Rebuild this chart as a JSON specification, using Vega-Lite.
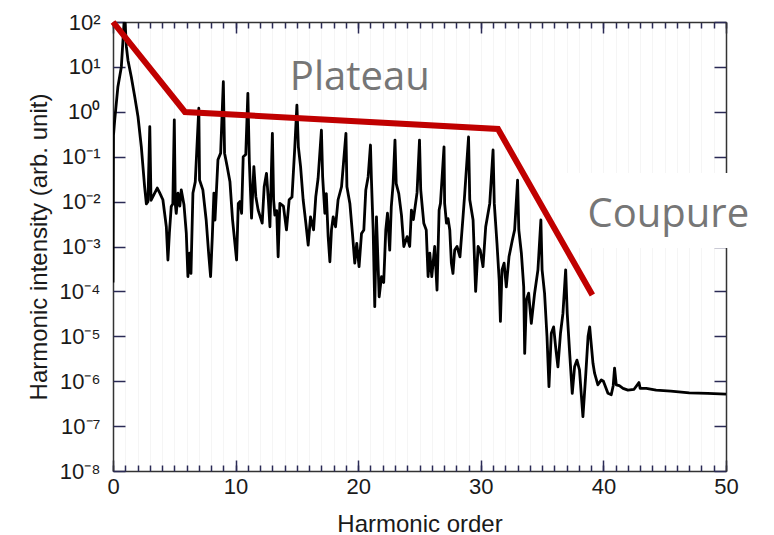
{
  "$schema": "https://vega.github.io/schema/vega-lite/v6.json",
  "width": 613,
  "height": 449,
  "autosize": {"type": "none"},
  "padding": {"left": 113, "top": 22, "right": 48, "bottom": 64},
  "background": "white",
  "config": {
    "view": {"stroke": null},
    "axis": {
      "domainColor": "#333333", "domainWidth": 1.5, "tickWidth": 1.5,
      "labelFont": "Liberation Sans", "labelFontSize": 22, "labelColor": "#1a1a1a",
      "titleFont": "Liberation Sans", "titleFontSize": 24, "titleFontWeight": "normal", "titleColor": "#1a1a1a",
      "grid": false
    }
  },
  "datasets": {
    "box": [{"x1": 36.9, "x2": 52, "y1": 0.00093, "y2": 0.0434}],
    "spec": [
      {"x": 0, "y": 1.58e-4}, {"x": 0.04, "y": 0.3}, {"x": 0.14, "y": 0.661}, {"x": 0.4, "y": 3.63},
      {"x": 0.68, "y": 10}, {"x": 0.95, "y": 158}, {"x": 1.09, "y": 28.2}, {"x": 1.22, "y": 14.1},
      {"x": 1.49, "y": 6.03}, {"x": 1.77, "y": 2.19}, {"x": 2.04, "y": 0.776}, {"x": 2.31, "y": 0.166},
      {"x": 2.58, "y": 0.0214}, {"x": 2.72, "y": 0.00891}, {"x": 2.85, "y": 0.01}, {"x": 3.0, "y": 0.468},
      {"x": 3.1, "y": 0.0107}, {"x": 3.4, "y": 0.0155}, {"x": 3.61, "y": 0.02}, {"x": 3.8, "y": 0.0158},
      {"x": 4.07, "y": 0.011}, {"x": 4.35, "y": 0.00275}, {"x": 4.48, "y": 5.01e-4}, {"x": 4.6, "y": 0.002},
      {"x": 4.75, "y": 0.00776}, {"x": 4.88, "y": 0.00891}, {"x": 5.0, "y": 0.661}, {"x": 5.08, "y": 0.00891},
      {"x": 5.16, "y": 0.0055}, {"x": 5.3, "y": 0.0155}, {"x": 5.45, "y": 0.00794}, {"x": 5.57, "y": 0.0182},
      {"x": 5.79, "y": 0.00851}, {"x": 5.98, "y": 0.00195}, {"x": 6.11, "y": 2.14e-4}, {"x": 6.25, "y": 7.08e-4},
      {"x": 6.36, "y": 2.51e-4}, {"x": 6.52, "y": 0.0155}, {"x": 6.71, "y": 0.0275}, {"x": 7.0, "y": 1.2},
      {"x": 7.06, "y": 0.0302}, {"x": 7.33, "y": 0.0182}, {"x": 7.6, "y": 0.00389}, {"x": 7.8, "y": 7.08e-4},
      {"x": 7.96, "y": 2.14e-4}, {"x": 8.1, "y": 0.00166}, {"x": 8.23, "y": 0.0155}, {"x": 8.32, "y": 0.00389},
      {"x": 8.56, "y": 0.0851}, {"x": 8.78, "y": 0.12}, {"x": 9.0, "y": 4.68}, {"x": 9.1, "y": 0.12},
      {"x": 9.3, "y": 0.0631}, {"x": 9.54, "y": 0.0275}, {"x": 9.75, "y": 0.00398}, {"x": 10.08, "y": 5.01e-4},
      {"x": 10.22, "y": 0.00912}, {"x": 10.35, "y": 0.01}, {"x": 10.49, "y": 0.0055}, {"x": 10.62, "y": 0.1},
      {"x": 10.83, "y": 0.112}, {"x": 11.0, "y": 2.57}, {"x": 11.12, "y": 0.0794}, {"x": 11.3, "y": 0.00427},
      {"x": 11.49, "y": 0.0603}, {"x": 11.65, "y": 0.0129}, {"x": 11.84, "y": 0.00646}, {"x": 12.17, "y": 0.00331},
      {"x": 12.33, "y": 0.0214}, {"x": 12.52, "y": 0.0427}, {"x": 12.68, "y": 0.01}, {"x": 12.8, "y": 0.00275},
      {"x": 13.0, "y": 0.331}, {"x": 13.1, "y": 0.011}, {"x": 13.2, "y": 0.00501}, {"x": 13.35, "y": 0.00631},
      {"x": 13.47, "y": 5.89e-4}, {"x": 13.61, "y": 0.00912}, {"x": 13.9, "y": 0.00794}, {"x": 14.15, "y": 0.00234},
      {"x": 14.37, "y": 0.011}, {"x": 14.6, "y": 0.0126}, {"x": 14.83, "y": 0.166}, {"x": 15.0, "y": 1.41},
      {"x": 15.12, "y": 0.166}, {"x": 15.3, "y": 0.0603}, {"x": 15.51, "y": 0.011}, {"x": 15.73, "y": 0.00331},
      {"x": 15.92, "y": 0.00107}, {"x": 16.11, "y": 0.00457}, {"x": 16.36, "y": 0.00234}, {"x": 16.54, "y": 0.0129},
      {"x": 16.73, "y": 0.0331}, {"x": 17.0, "y": 0.389}, {"x": 17.1, "y": 0.0355}, {"x": 17.28, "y": 0.0055},
      {"x": 17.4, "y": 0.0151}, {"x": 17.55, "y": 0.00166}, {"x": 17.69, "y": 4.57e-4}, {"x": 17.82, "y": 0.00234},
      {"x": 17.96, "y": 0.00457}, {"x": 18.15, "y": 0.00275}, {"x": 18.36, "y": 0.011}, {"x": 18.64, "y": 0.0214},
      {"x": 19.0, "y": 0.331}, {"x": 19.08, "y": 0.0214}, {"x": 19.32, "y": 0.00912}, {"x": 19.53, "y": 0.00195},
      {"x": 19.72, "y": 4.27e-4}, {"x": 19.88, "y": 0.00117}, {"x": 20.07, "y": 3.55e-4}, {"x": 20.27, "y": 0.00195},
      {"x": 20.46, "y": 0.00234}, {"x": 20.62, "y": 0.0182}, {"x": 20.81, "y": 0.0355}, {"x": 21.0, "y": 0.182},
      {"x": 21.08, "y": 0.0302}, {"x": 21.22, "y": 0.00234}, {"x": 21.35, "y": 4.57e-5}, {"x": 21.49, "y": 0.00457},
      {"x": 21.71, "y": 7.59e-5}, {"x": 21.9, "y": 2.14e-4}, {"x": 22.08, "y": 1.58e-4}, {"x": 22.25, "y": 0.00234},
      {"x": 22.39, "y": 0.0055}, {"x": 22.57, "y": 8.32e-4}, {"x": 22.7, "y": 0.00776}, {"x": 22.85, "y": 0.0251},
      {"x": 23.0, "y": 0.234}, {"x": 23.1, "y": 0.0251}, {"x": 23.31, "y": 0.0151}, {"x": 23.53, "y": 0.00501},
      {"x": 23.72, "y": 0.001}, {"x": 23.99, "y": 0.00166}, {"x": 24.2, "y": 0.001}, {"x": 24.34, "y": 0.00646},
      {"x": 24.5, "y": 0.00398}, {"x": 24.8, "y": 0.0158}, {"x": 25.0, "y": 0.234}, {"x": 25.1, "y": 0.0182},
      {"x": 25.2, "y": 0.00912}, {"x": 25.35, "y": 0.00331}, {"x": 25.55, "y": 0.00234}, {"x": 25.7, "y": 2.14e-4},
      {"x": 25.84, "y": 7.08e-4}, {"x": 26.0, "y": 2.14e-4}, {"x": 26.24, "y": 0.001}, {"x": 26.43, "y": 1.07e-4},
      {"x": 26.6, "y": 0.00646}, {"x": 26.71, "y": 0.00912}, {"x": 27.0, "y": 0.166}, {"x": 27.05, "y": 0.00912},
      {"x": 27.2, "y": 0.00331}, {"x": 27.33, "y": 0.00417}, {"x": 27.47, "y": 0.00234}, {"x": 27.6, "y": 4.27e-4},
      {"x": 27.73, "y": 2.51e-4}, {"x": 27.87, "y": 8.32e-4}, {"x": 28.06, "y": 0.001}, {"x": 28.3, "y": 5.89e-4},
      {"x": 28.55, "y": 0.00457}, {"x": 28.69, "y": 0.0151}, {"x": 29.0, "y": 0.275}, {"x": 29.1, "y": 0.011},
      {"x": 29.37, "y": 0.00389}, {"x": 29.58, "y": 1.0e-4}, {"x": 29.78, "y": 0.001}, {"x": 29.95, "y": 8.32e-4},
      {"x": 30.18, "y": 3.55e-4}, {"x": 30.4, "y": 0.00275}, {"x": 30.73, "y": 0.00912}, {"x": 31.0, "y": 0.141},
      {"x": 31.1, "y": 0.00912}, {"x": 31.32, "y": 0.00117}, {"x": 31.5, "y": 1.78e-4}, {"x": 31.6, "y": 2.14e-5},
      {"x": 31.73, "y": 3.02e-4}, {"x": 31.9, "y": 4.27e-4}, {"x": 32.08, "y": 1.26e-4}, {"x": 32.3, "y": 5.89e-4},
      {"x": 32.57, "y": 0.00138}, {"x": 32.76, "y": 0.00234}, {"x": 33.0, "y": 0.0302}, {"x": 33.1, "y": 0.00234},
      {"x": 33.31, "y": 7.08e-4}, {"x": 33.5, "y": 1.26e-4}, {"x": 33.58, "y": 4.17e-6}, {"x": 33.72, "y": 6.46e-5},
      {"x": 33.9, "y": 9.12e-5}, {"x": 34.12, "y": 1.95e-5}, {"x": 34.39, "y": 9.12e-5}, {"x": 34.66, "y": 3.02e-4},
      {"x": 34.9, "y": 0.00389}, {"x": 35.0, "y": 3.02e-4}, {"x": 35.2, "y": 9.12e-5}, {"x": 35.4, "y": 9.77e-6},
      {"x": 35.56, "y": 7.59e-7}, {"x": 35.75, "y": 1.17e-5}, {"x": 35.94, "y": 1.62e-5}, {"x": 36.1, "y": 5.89e-6},
      {"x": 36.29, "y": 2.09e-6}, {"x": 36.5, "y": 1.17e-5}, {"x": 36.7, "y": 3.24e-5}, {"x": 36.92, "y": 3.02e-4},
      {"x": 37.05, "y": 3.24e-5}, {"x": 37.25, "y": 4.17e-6}, {"x": 37.46, "y": 5.37e-7}, {"x": 37.65, "y": 2.09e-6},
      {"x": 37.84, "y": 2.95e-6}, {"x": 38.05, "y": 1.78e-6}, {"x": 38.33, "y": 1.62e-7}, {"x": 38.55, "y": 1.26e-6},
      {"x": 38.75, "y": 1.0e-5}, {"x": 38.88, "y": 1.62e-5}, {"x": 39.15, "y": 2.51e-6}, {"x": 39.28, "y": 1.51e-6},
      {"x": 39.55, "y": 8.32e-7}, {"x": 39.83, "y": 1.07e-6}, {"x": 40.0, "y": 1.0e-6}, {"x": 40.37, "y": 5.37e-7},
      {"x": 40.64, "y": 5.01e-7}, {"x": 40.8, "y": 7.94e-7}, {"x": 40.91, "y": 1.95e-6}, {"x": 41.05, "y": 8.32e-7},
      {"x": 41.3, "y": 7.94e-7}, {"x": 41.6, "y": 6.92e-7}, {"x": 42.0, "y": 6.31e-7}, {"x": 42.5, "y": 6.61e-7},
      {"x": 42.9, "y": 9.33e-7}, {"x": 43.0, "y": 6.92e-7}, {"x": 43.5, "y": 6.92e-7}, {"x": 44.3, "y": 6.31e-7},
      {"x": 45.5, "y": 6.03e-7}, {"x": 47.0, "y": 5.5e-7}, {"x": 48.5, "y": 5.37e-7}, {"x": 50.0, "y": 5.13e-7}
    ],
    "trend": [
      {"x": 0, "y": 100}, {"x": 5.87, "y": 0.99}, {"x": 31.4, "y": 0.414}, {"x": 39.1, "y": 8.3e-5}
    ],
    "notes": [
      {"x": 20.13, "y": 3.06, "label": "Plateau"},
      {"x": 45.3, "y": 0.00272, "label": "Coupure"}
    ]
  },
  "layer": [
    {
      "data": {"name": "box"},
      "mark": {"type": "rect", "fill": "white"},
      "encoding": {
        "x": {"field": "x1", "type": "quantitative",
              "scale": {"domain": [0, 50], "nice": false, "zero": false},
              "axis": {"orient": "bottom", "values": [0,1,2,3,4,5,6,7,8,9,10,11,12,13,14,15,16,17,18,19,20,21,22,23,24,25,26,27,28,29,30,31,32,33,34,35,36,37,38,39,40,41,42,43,44,45,46,47,48,49,50],
                       "ticks": false, "labelPadding": 5, "labelFlush": false, "labelOverlap": false,
                       "labelExpr": "datum.value % 10 == 0 ? datum.label : ''",
                       "grid": true, "gridColor": "#f5f5f5", "gridWidth": 1,
                       "title": "Harmonic order", "titlePadding": 15}},
        "x2": {"field": "x2"},
        "y": {"field": "y1", "type": "quantitative",
              "scale": {"type": "log", "domain": [1e-8, 100], "nice": false},
              "axis": {"orient": "left", "values": [1e-8, 1e-7, 1e-6, 1e-5, 1e-4, 1e-3, 1e-2, 1e-1, 1, 10, 100],
                       "ticks": false, "labelPadding": 13, "labelFlush": false, "labelOverlap": false,
                       "labelExpr": "'10' + (datum.value < 0.5 ? '⁻' : '') + ['⁰','¹','²','³','⁴','⁵','⁶','⁷','⁸','⁹'][round(abs(log(datum.value)/LN10))]",
                       "title": "Harmonic intensity (arb. unit)", "titlePadding": 8}},
        "y2": {"field": "y2"}
      }
    },
    {
      "data": {"name": "box"},
      "mark": {"type": "rect", "opacity": 0},
      "encoding": {
        "x": {"field": "x1", "type": "quantitative",
              "axis": {"orient": "bottom", "values": [0, 10, 20, 30, 40, 50], "tickSize": -11, "tickColor": "#2a2a55",
                       "domain": false, "labels": false, "title": null}},
        "x2": {"field": "x2"},
        "y": {"field": "y1", "type": "quantitative", "axis": null},
        "y2": {"field": "y2"}
      }
    },
    {
      "data": {"name": "box"},
      "mark": {"type": "rect", "opacity": 0},
      "encoding": {
        "x": {"field": "x1", "type": "quantitative",
              "axis": {"orient": "top", "values": [0,1,2,3,4,5,6,7,8,9,10,11,12,13,14,15,16,17,18,19,20,21,22,23,24,25,26,27,28,29,30,31,32,33,34,35,36,37,38,39,40,41,42,43,44,45,46,47,48,49,50],
                       "tickSize": -6, "tickColor": "#2a2a55", "domain": false, "labels": false, "title": null}},
        "x2": {"field": "x2"},
        "y": {"field": "y1", "type": "quantitative", "axis": null},
        "y2": {"field": "y2"}
      }
    },
    {
      "data": {"name": "spec"},
      "mark": {"type": "line", "color": "#000000", "strokeWidth": 2.8, "clip": true, "strokeJoin": "round"},
      "encoding": {
        "x": {"field": "x", "type": "quantitative",
              "axis": {"orient": "bottom", "values": [0,1,2,3,4,5,6,7,8,9,10,11,12,13,14,15,16,17,18,19,20,21,22,23,24,25,26,27,28,29,30,31,32,33,34,35,36,37,38,39,40,41,42,43,44,45,46,47,48,49,50],
                       "tickSize": -6, "tickColor": "#2a2a55", "domain": false, "labels": false, "title": null}},
        "y": {"field": "y", "type": "quantitative",
              "axis": {"orient": "right", "values": [1e-8, 1e-7, 1e-6, 1e-5, 1e-4, 1e-3, 1e-2, 1e-1, 1, 10, 100],
                       "tickSize": -12, "tickColor": "#2a2a55", "labels": false, "title": null}}
      }
    },
    {
      "data": {"name": "trend"},
      "mark": {"type": "line", "color": "#c00000", "strokeWidth": 6, "strokeJoin": "miter"},
      "encoding": {
        "x": {"field": "x", "type": "quantitative",
              "axis": {"orient": "top", "values": [0, 10, 20, 30, 40, 50], "tickSize": -11, "tickColor": "#2a2a55",
                       "labels": false, "title": null}},
        "y": {"field": "y", "type": "quantitative",
              "axis": {"orient": "left", "values": [1e-8, 1e-7, 1e-6, 1e-5, 1e-4, 1e-3, 1e-2, 1e-1, 1, 10, 100],
                       "tickSize": -12, "tickColor": "#2a2a55", "domain": false, "labels": false, "title": null}}
      }
    },
    {
      "data": {"name": "notes"},
      "mark": {"type": "text", "font": "Open Sans", "fontSize": 40, "color": "#767676", "align": "center", "baseline": "alphabetic"},
      "encoding": {
        "x": {"field": "x", "type": "quantitative", "axis": null},
        "y": {"field": "y", "type": "quantitative", "axis": null},
        "text": {"field": "label"}
      }
    }
  ],
  "resolve": {"axis": {"x": "independent", "y": "independent"}}
}
